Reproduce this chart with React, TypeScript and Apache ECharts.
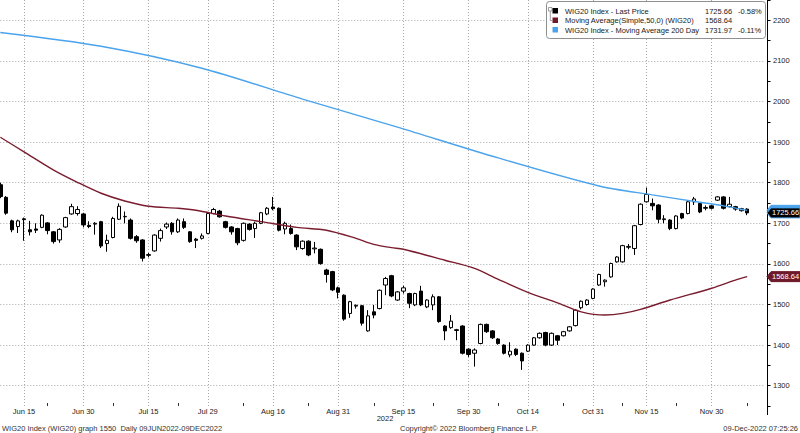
import React, { useEffect, useRef } from 'react';
import * as echarts from 'echarts';

const FONT = '"Liberation Sans", Arial, sans-serif';
const MONTH_NAMES = ['Jan', 'Feb', 'Mar', 'Apr', 'May', 'Jun', 'Jul', 'Aug', 'Sep', 'Oct', 'Nov', 'Dec'];

// Warsaw trading days (plus 3 empty slots at the end of the axis)
const junDays = [9, 10, 13, 14, 15, 17, 20, 21, 22, 23, 24, 27, 28, 29, 30];
const julDays = [1, 4, 5, 6, 7, 8, 11, 12, 13, 14, 15, 18, 19, 20, 21, 22, 25, 26, 27, 28, 29];
const augDays = [1, 2, 3, 4, 5, 8, 9, 10, 11, 12, 16, 17, 18, 19, 22, 23, 24, 25, 26, 29, 30, 31];
const sepDays = [1, 2, 5, 6, 7, 8, 9, 12, 13, 14, 15, 16, 19, 20, 21, 22, 23, 26, 27, 28, 29, 30];
const octDays = [3, 4, 5, 6, 7, 10, 11, 12, 13, 14, 17, 18, 19, 20, 21, 24, 25, 26, 27, 28, 31];
const novDays = [2, 3, 4, 7, 8, 9, 10, 14, 15, 16, 17, 18, 21, 22, 23, 24, 25, 28, 29, 30];
const decDays = [1, 2, 5, 6, 7, 8, 9, 12, 13];
const tradingMonths: [number, number[]][] = [
  [6, junDays], [7, julDays], [8, augDays], [9, sepDays], [10, octDays], [11, novDays], [12, decDays],
];
const dates: string[] = tradingMonths.flatMap(([m, days]) =>
  days.map((d) => `2022-${String(m).padStart(2, '0')}-${String(d).padStart(2, '0')}`)
);

// [open, close, low, high]
const ohlc: number[][] = [
  [1795, 1766, 1762, 1800], [1764, 1725, 1721, 1767], [1706, 1684, 1678, 1709], [1692, 1706, 1676, 1709],
  [1711, 1709, 1657, 1714], [1684, 1679, 1670, 1706], [1686, 1683, 1676, 1700], [1690, 1720, 1688, 1722],
  [1701, 1682, 1673, 1703], [1679, 1655, 1650, 1681],
  [1659, 1685, 1652, 1688], [1691, 1714, 1689, 1716], [1723, 1741, 1721, 1748], [1724, 1734, 1719, 1742],
  [1723, 1696, 1690, 1726], [1695, 1692, 1688, 1705], [1698, 1700, 1672, 1703], [1704, 1644, 1639, 1706],
  [1650, 1658, 1630, 1672], [1665, 1712, 1663, 1716],
  [1710, 1742, 1708, 1749], [1716, 1717, 1700, 1729], [1708, 1663, 1660, 1712], [1667, 1657, 1652, 1671],
  [1659, 1614, 1606, 1661], [1621, 1623, 1616, 1627], [1632, 1671, 1630, 1673], [1663, 1682, 1655, 1687],
  [1691, 1698, 1686, 1702], [1700, 1679, 1672, 1703],
  [1679, 1708, 1676, 1712], [1704, 1690, 1686, 1712], [1679, 1655, 1652, 1681], [1661, 1658, 1639, 1664],
  [1663, 1669, 1660, 1675], [1675, 1724, 1673, 1726], [1724, 1734, 1722, 1738], [1730, 1716, 1714, 1733],
  [1704, 1690, 1687, 1706], [1691, 1679, 1672, 1693],
  [1687, 1652, 1646, 1689], [1658, 1700, 1655, 1702], [1698, 1685, 1682, 1700], [1687, 1700, 1664, 1704],
  [1700, 1726, 1698, 1728], [1723, 1737, 1720, 1740], [1740, 1736, 1732, 1765], [1737, 1683, 1680, 1739],
  [1686, 1700, 1673, 1704], [1687, 1675, 1672, 1697],
  [1671, 1642, 1634, 1673], [1638, 1656, 1635, 1658], [1656, 1622, 1619, 1658], [1637, 1639, 1626, 1654],
  [1636, 1601, 1598, 1638], [1585, 1574, 1554, 1588], [1581, 1536, 1533, 1583], [1541, 1530, 1515, 1544],
  [1523, 1464, 1460, 1525], [1478, 1507, 1467, 1509],
  [1496, 1498, 1490, 1500], [1497, 1454, 1448, 1499], [1435, 1472, 1433, 1486], [1482, 1474, 1466, 1499],
  [1490, 1535, 1488, 1537], [1548, 1564, 1523, 1568], [1571, 1521, 1518, 1573], [1511, 1531, 1509, 1533],
  [1533, 1541, 1527, 1546], [1527, 1503, 1491, 1529],
  [1499, 1527, 1496, 1529], [1533, 1499, 1496, 1546], [1494, 1511, 1491, 1513], [1499, 1519, 1486, 1525],
  [1519, 1458, 1455, 1521], [1447, 1435, 1412, 1449], [1443, 1459, 1440, 1474], [1436, 1438, 1412, 1440],
  [1447, 1380, 1377, 1449], [1390, 1377, 1371, 1392],
  [1380, 1388, 1347, 1392], [1404, 1451, 1402, 1453], [1451, 1433, 1430, 1453], [1435, 1418, 1415, 1437],
  [1415, 1404, 1401, 1417], [1400, 1380, 1377, 1402], [1376, 1385, 1370, 1407], [1390, 1377, 1373, 1392],
  [1380, 1361, 1339, 1382], [1385, 1400, 1383, 1402],
  [1400, 1418, 1398, 1420], [1418, 1429, 1416, 1431], [1431, 1400, 1397, 1433], [1400, 1429, 1398, 1431],
  [1423, 1412, 1400, 1425], [1423, 1433, 1421, 1435], [1435, 1445, 1433, 1447], [1448, 1486, 1446, 1488],
  [1492, 1508, 1488, 1510], [1500, 1511, 1497, 1513],
  [1515, 1538, 1513, 1540], [1548, 1574, 1546, 1576], [1556, 1560, 1544, 1562], [1568, 1601, 1566, 1603],
  [1605, 1617, 1603, 1619], [1605, 1645, 1603, 1647], [1641, 1643, 1636, 1649], [1638, 1694, 1622, 1696],
  [1697, 1747, 1695, 1749], [1753, 1771, 1751, 1788],
  [1749, 1743, 1732, 1761], [1745, 1710, 1700, 1747], [1709, 1711, 1700, 1720], [1708, 1687, 1683, 1710],
  [1687, 1718, 1685, 1720], [1724, 1713, 1710, 1726], [1724, 1753, 1722, 1755], [1753, 1760, 1745, 1765],
  [1749, 1728, 1725, 1751], [1737, 1739, 1732, 1744],
  [1743, 1737, 1734, 1745], [1757, 1765, 1755, 1767], [1765, 1737, 1734, 1767], [1741, 1747, 1739, 1765],
  [1741, 1735, 1731, 1743], [1731, 1736, 1729, 1738], [1735, 1725.66, 1720, 1737],
];

// Moving averages: [day index, value]
const ma50: [number, number][] = [
  [0, 1912], [4, 1876], [9, 1831], [13, 1801], [17, 1774], [21, 1755], [25, 1742], [30, 1737],
  [33, 1732], [38, 1718], [44, 1704], [50, 1690], [55, 1683], [60, 1663], [63, 1648], [66, 1640],
  [68, 1636], [75, 1609], [80, 1589], [84, 1562], [89, 1530], [94, 1504], [98, 1482], [102, 1474],
  [105, 1478], [108, 1488], [113, 1511], [120, 1540], [124, 1560], [126, 1568.64],
];
const ma200: [number, number][] = [
  [0, 2170], [17, 2136], [34, 2082], [51, 2006], [67, 1937], [84, 1861], [101, 1792], [110, 1770],
  [118, 1752], [122, 1743], [126, 1731.97],
];

const labelIdx = [4, 14, 25, 35, 46, 57, 68, 79, 89, 100, 109, 120];
const minorTickIdx = [8, 19, 30, 41, 52, 63, 73, 84, 95, 105, 114, 126];
const gridValues = [1300, 1400, 1500, 1600, 1700, 1800, 1900, 2000, 2100, 2200];

const lastPrice = 1725.66;
const lastPriceChange = '-0.58%';
const ma50Last = 1568.64;
const ma200Last = 1731.97;
const ma200Change = '-0.11%';

const legendRows = [
  { name: 'WIG20 Index - Last Price', color: '#000000', value: lastPrice.toFixed(2), change: lastPriceChange },
  { name: 'Moving Average(Simple,50,0) (WIG20)', color: '#6e1a2a', value: ma50Last.toFixed(2), change: '' },
  { name: 'WIG20 Index - Moving Average 200 Day', color: '#4aa3ec', value: ma200Last.toFixed(2), change: ma200Change },
];

const fmtDate = (v: string) => {
  const [, m, d] = v.split('-');
  return `${MONTH_NAMES[Number(m) - 1]} ${Number(d)}`;
};

const txt = (text: string, x: number, y: number, opts: any = {}) => ({
  type: 'text',
  z: 100,
  style: {
    text,
    x,
    y,
    fill: opts.fill || '#1a1a1a',
    fontSize: opts.fontSize || 7.5,
    fontFamily: FONT,
    align: opts.align || 'left',
    textAlign: opts.align || 'left',
    verticalAlign: 'middle',
    textVerticalAlign: 'middle',
  },
});

export default function App() {
  const ref = useRef<HTMLDivElement>(null);

  useEffect(() => {
    document.body.style.margin = '0';
    if (!ref.current) return;
    const chart = echarts.init(ref.current, null, { renderer: 'svg' });
    const dotted = { color: '#a9a9a9', type: [1, 2] as any, width: 1 };

    chart.setOption({
      animation: false,
      backgroundColor: '#ffffff',
      grid: { left: 0.29, right: 35, top: 0, bottom: 27, containLabel: false },
      xAxis: {
        type: 'category',
        data: dates,
        boundaryGap: false,
        axisLine: { show: false },
        axisTick: {
          show: true,
          inside: true,
          length: 3,
          interval: (i: number) => minorTickIdx.includes(i),
          lineStyle: { color: '#333' },
        },
        axisLabel: {
          interval: (i: number) => labelIdx.includes(i),
          formatter: (v: string) => fmtDate(v),
          fontSize: 7.5,
          fontFamily: FONT,
          color: '#222',
          margin: 1,
        },
        splitLine: { show: true, interval: (i: number) => labelIdx.includes(i), lineStyle: dotted },
      },
      yAxis: {
        type: 'value',
        position: 'right',
        min: 1250,
        max: 2250,
        interval: 50,
        offset: 2,
        axisLine: { show: true, lineStyle: { color: '#000', width: 1 } },
        axisTick: { show: true, length: 3.5, lineStyle: { color: '#000' } },
        axisLabel: {
          formatter: (v: number) => (v % 100 === 0 ? String(v) : ''),
          fontSize: 7.5,
          fontFamily: FONT,
          color: '#222',
          margin: 6,
        },
        splitLine: { show: false },
      },
      series: [
        {
          type: 'candlestick',
          data: ohlc,
          barWidth: 4,
          z: 3,
          silent: true,
          itemStyle: {
            color: '#ffffff',
            color0: '#000000',
            borderColor: '#000000',
            borderColor0: '#000000',
            borderWidth: 1,
          },
          markLine: {
            silent: true,
            symbol: 'none',
            z: 1,
            label: { show: false },
            lineStyle: dotted,
            data: gridValues.map((v) => ({ yAxis: v })),
          },
        },
        {
          type: 'line',
          data: ma50,
          symbol: 'none',
          showSymbol: false,
          smooth: 0.3,
          silent: true,
          z: 4,
          lineStyle: { color: '#7a1c2e', width: 1.4 },
        },
        {
          type: 'line',
          data: ma200,
          symbol: 'none',
          showSymbol: false,
          smooth: 0.3,
          silent: true,
          z: 4,
          lineStyle: { color: '#4aa3ec', width: 1.4 },
        },
      ],
    });

    const yOf = (v: number) => chart.convertToPixel({ yAxisIndex: 0 }, v) as number;
    const axisX = 767;
    const tag = (v: number, bg: string, stroke: string, z: number, withText: boolean) => {
      const y = yOf(v);
      return {
        type: 'group',
        z,
        children: [
          {
            type: 'polygon',
            z,
            shape: { points: [[axisX, y], [axisX + 4, y - 5], [800, y - 5], [800, y + 5], [axisX + 4, y + 5]] },
            style: { fill: bg, stroke, lineWidth: 1 },
          },
          ...(withText ? [{ ...txt(v.toFixed(2), axisX + 5, y, { fill: '#ffffff' }), z: z + 1 }] : []),
        ],
      };
    };

    const legendX = 546.5;
    const rowY = [11, 20.5, 30];
    const graphics: any[] = [
      // axis line extension below plot
      { type: 'line', z: 100, shape: { x1: axisX + 0.5, y1: 406, x2: axisX + 0.5, y2: 415 }, style: { stroke: '#000', lineWidth: 1 } },
      tag(ma200Last, '#4aa3ec', '#4aa3ec', 101, false),
      tag(lastPrice, '#000000', '#4aa3ec', 103, true),
      tag(ma50Last, '#6e1a2a', '#6e1a2a', 101, true),
      // legend box
      {
        type: 'rect',
        z: 99,
        shape: { x: legendX, y: 1.5, width: 219, height: 37, r: 3 },
        style: { fill: '#ffffff', stroke: '#8f8f8f', lineWidth: 1 },
      },
      { type: 'rect', z: 100, shape: { x: 548.5, y: 7.5, width: 3.5, height: 3.5 }, style: { fill: '#fff', stroke: '#888', lineWidth: 0.8 } },
      { type: 'polyline', z: 100, shape: { points: [[550.3, 11], [550.3, 20.5], [552, 20.5]] }, style: { stroke: '#888', lineWidth: 0.8, fill: 'none' } },
      ...legendRows.flatMap((r, i) => [
        { type: 'rect', z: 100, shape: { x: 552.5, y: rowY[i] - 3, width: 5.5, height: 5.5 }, style: { fill: r.color } },
        txt(r.name, 565, rowY[i]),
        txt(r.value, 705, rowY[i]),
        ...(r.change ? [txt(r.change, 738, rowY[i])] : []),
      ]),
      // year label and footer
      txt('2022', 385, 418.5, { align: 'center' }),
      txt('WIG20 Index (WIG20) graph 1550  Daily 09JUN2022-09DEC2022', 2, 428, { fill: '#333' }),
      txt('Copyright\u00A9 2022 Bloomberg Finance L.P.', 400, 428, { fill: '#333' }),
      txt('09-Dec-2022 07:25:26', 798, 428, { fill: '#333', align: 'right' }),
    ];
    chart.setOption({ graphic: graphics });

    return () => chart.dispose();
  }, []);

  return <div ref={ref} style={{ width: 800, height: 433 }} />;
}
